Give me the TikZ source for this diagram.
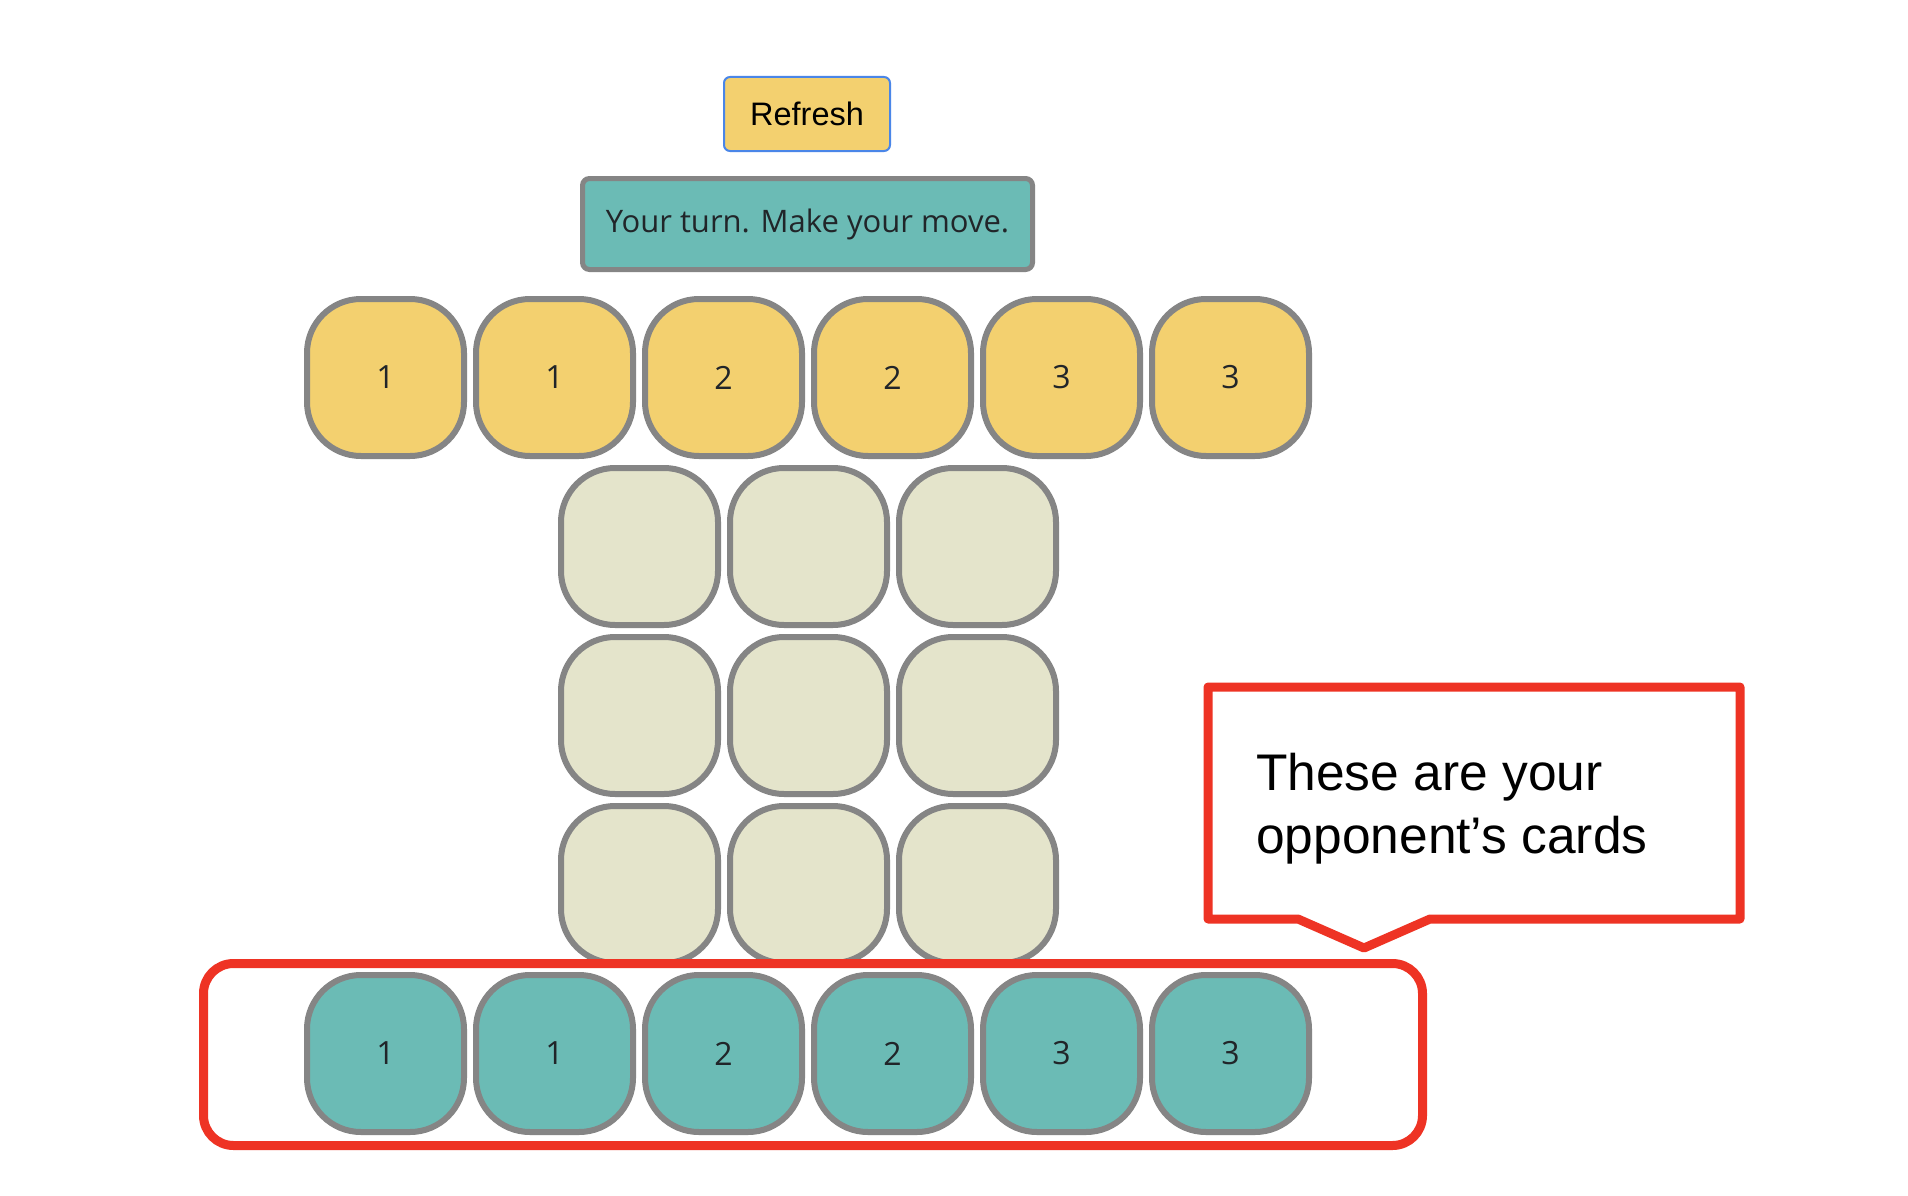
\documentclass[tikz,border=0pt]{standalone}
\usepackage{fontspec}
\setmainfont{Open Sans}
\newfontfamily\arialf{Liberation Sans}
\definecolor{cardyellow}{HTML}{F3D06F}
\definecolor{cardteal}{HTML}{6BBBB5}
\definecolor{cardboard}{HTML}{E4E4CB}
\definecolor{cardgray}{HTML}{858585}
\definecolor{txtdark}{HTML}{212529}
\definecolor{hlred}{RGB}{238,51,36}
\definecolor{btnblue}{HTML}{4A86E8}
\tikzset{
  card/.style={draw=cardgray, line width=6pt, rounded corners=54pt,
    minimum width=157pt, minimum height=157pt, inner sep=0pt,
    text=txtdark, font=\fontsize{32}{38}\selectfont},
  ycard/.style={card, fill=cardyellow},
  tcard/.style={card, fill=cardteal},
  bcard/.style={card, fill=cardboard},
  btn/.style={draw=btnblue, line width=2pt, fill=cardyellow, rounded corners=6pt,
    minimum width=166pt, minimum height=74pt, inner sep=0pt,
    font=\arialf\fontsize{32.5}{38}\selectfont, text=black},
  status/.style={draw=cardgray, line width=5pt, fill=cardteal, rounded corners=7pt,
    minimum width=450pt, minimum height=91pt, inner sep=0pt,
    font=\fontsize{31}{37}\selectfont, text=txtdark},
  redline/.style={draw=hlred, line width=9pt},
  calltext/.style={anchor=base west, inner sep=0pt, font=\arialf\fontsize{51.5}{60}\selectfont, text=black}
}
\begin{document}
\begin{tikzpicture}[x=1pt,y=-1pt]
\useasboundingbox[fill=white] (0,0) rectangle (1908,1196);
% buttons
\node[btn] (refresh) at (807,114) {Refresh};
\node[status] (status) at (807.5,224) {Your turn. Make your move.};
% yellow hand
\foreach \i/\v in {0/1,1/1,2/2,3/2,4/3,5/3}{
  \node[ycard] (y\i) at ({385.5+169*\i},377.5) {\v};
}
% board
\foreach \r in {0,1,2}{
  \foreach \c in {0,1,2}{
    \node[bcard] (b\r\c) at ({639.5+169*\c},{546.5+169*\r}) {};
  }
}
% teal hand
\foreach \i/\v in {0/1,1/1,2/2,3/2,4/3,5/3}{
  \node[tcard] (t\i) at ({385.5+169*\i},1053.5) {\v};
}
% highlight box
\draw[redline, rounded corners=30pt] (203.5,963.5) rectangle (1422.5,1145.5);
% callout
\draw[redline, line join=round] (1208,687) -- (1740,687) -- (1740,919) -- (1430,919)
  -- (1364,948) -- (1298,919) -- (1208,919) -- cycle;
\node[calltext] (c1) at (1256,790) {These are your};
\node[calltext] (c2) at (1256,853) {opponent’s cards};
\end{tikzpicture}
\end{document}
